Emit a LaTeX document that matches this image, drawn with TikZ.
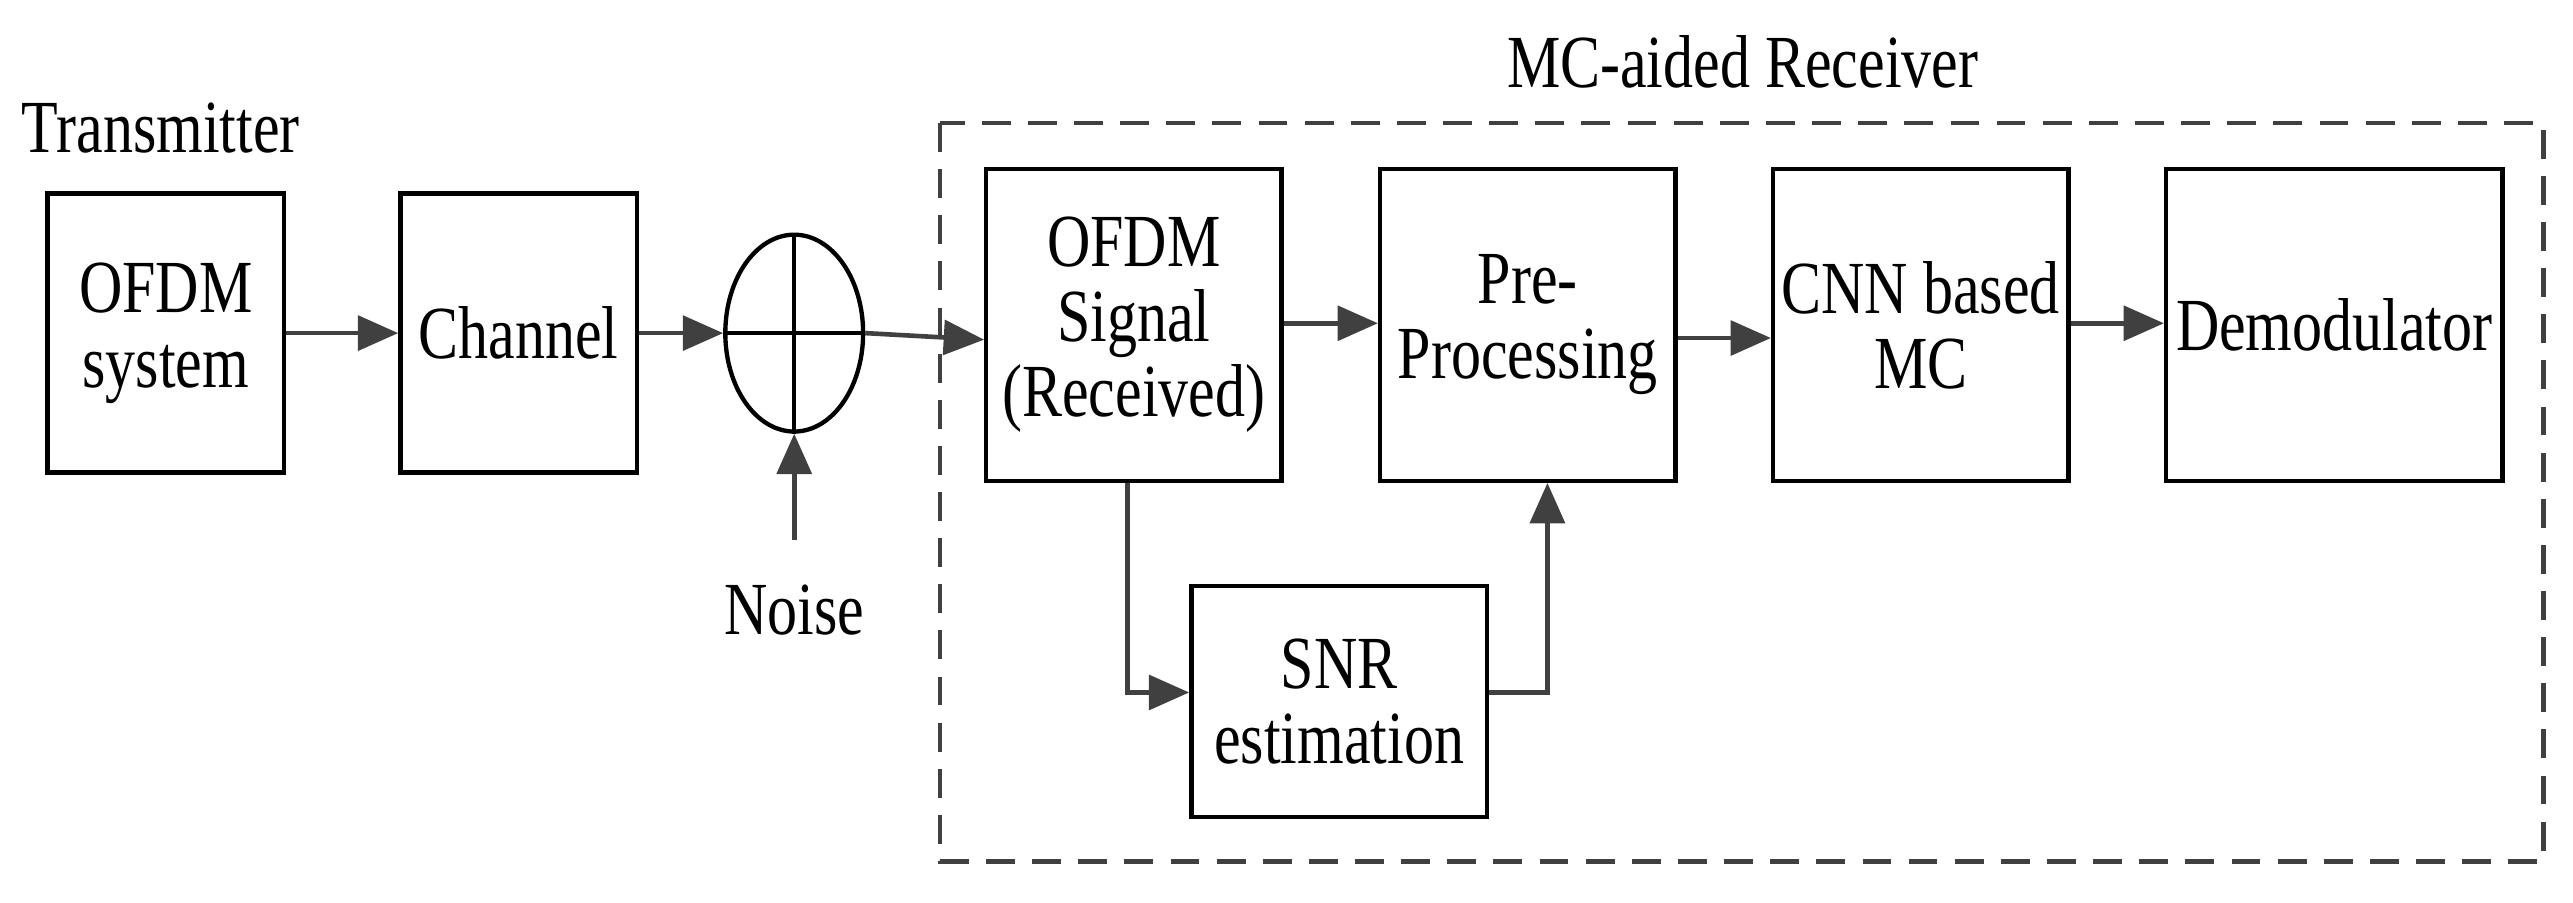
\documentclass[tikz,border=0pt]{standalone}
\usepackage{fontspec}
\setmainfont[FakeStretch=0.8]{Liberation Serif}
\usetikzlibrary{arrows.meta,shapes.geometric}
\begin{document}
\begin{tikzpicture}[x=0.02cm,y=-0.02cm,
  box/.style={draw=black,line width=1.5pt,inner sep=0pt,align=center,font=\fontsize{26}{26}\selectfont},
  arr/.style={draw=black!75,line width=1.6pt,-{Triangle[length=14pt,width=12pt]}},
  lbl/.style={font=\fontsize{26}{26}\selectfont,inner sep=0pt}]
\useasboundingbox (0,0) rectangle (1568,550);
\draw[black!75,line width=1.5pt,dash pattern=on 10pt off 6pt] (573,75) rectangle (1550,525);
\node[lbl] (title) at (1062,38) {MC-aided Receiver};
\node[lbl] (tx) at (98,78) {Transmitter};
\node[box,minimum width=2.88cm,minimum height=3.4cm] (ofdm) at (101,203) {OFDM\\system};
\node[box,minimum width=2.88cm,minimum height=3.4cm] (ch) at (316,203) {Channel};
\node[draw=black,line width=1.5pt,ellipse,minimum width=1.68cm,minimum height=2.4cm,inner sep=0pt] (add) at (484,203) {};
\draw[line width=1.5pt] (add.west) -- (add.east) (add.north) -- (add.south);
\node[lbl] (noise) at (484,372) {Noise};
\node[box,minimum width=3.6cm,minimum height=3.8cm] (sig) at (691,198) {OFDM\\Signal\\(Received)};
\node[box,minimum width=3.6cm,minimum height=3.8cm] (pre) at (931,198) {Pre-\\Processing};
\node[box,minimum width=3.6cm,minimum height=3.8cm] (cnn) at (1170.5,198) {CNN based\\MC};
\node[box,minimum width=4.1cm,minimum height=3.8cm] (dem) at (1422.5,198) {Demodulator};
\node[box,minimum width=3.6cm,minimum height=2.82cm] (snr) at (816,427.5) {SNR\\estimation};
\draw[arr] (ofdm.east) -- (ch.west);
\draw[arr] (ch.east) -- (add.west);
\draw[arr] (add.east) -- (sig.west |- 0,207);
\draw[arr] (noise.north) ++(0,-27) -- (add.south);
\draw[arr] (sig.east |- 0,197) -- (pre.west |- 0,197);
\draw[arr] (pre.east |- 0,206) -- (cnn.west |- 0,206);
\draw[arr] (cnn.east |- 0,197) -- (dem.west |- 0,197);
\draw[arr] (sig.south -| 687,0) -- (687,422) -- (snr.west |- 0,422);
\draw[arr] (snr.east |- 0,422) -- (943,422) -- (pre.south -| 943,0);
\end{tikzpicture}
\end{document}
